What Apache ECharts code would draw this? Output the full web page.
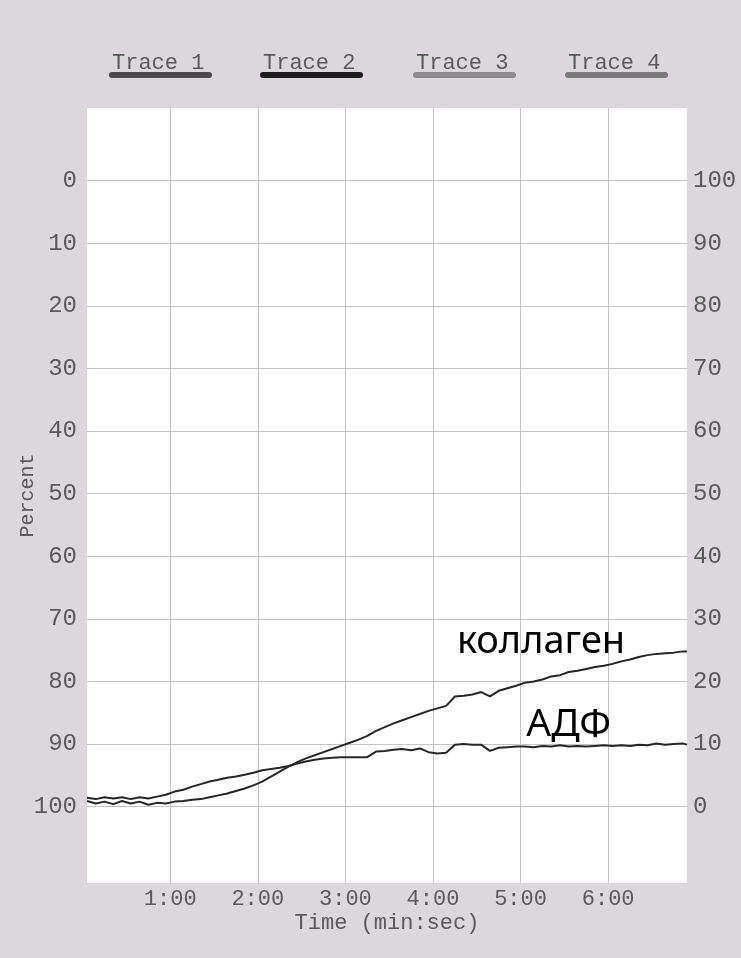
<!DOCTYPE html>
<html><head><meta charset="utf-8">
<script src="https://cdn.jsdelivr.net/npm/echarts@6/dist/echarts.min.js"></script>
<style>html,body{margin:0;padding:0;background:#dbd7dc}#c{width:741px;height:958px}</style>
</head><body><div id="c"></div>
<script>
// time of each sample, seconds
const timeSec = [
  3,9,15,21,27,33,39,45,51,57,
  63,69,75,81,87,93,99,105,111,117,
  123,129,135,141,147,153,159,165,171,177,
  183,189,195,201,207,213,219,225,231,237,
  243,249,255,261,267,273,279,285,291,297,
  303,309,315,321,327,333,339,345,351,357,
  363,369,375,381,387,393,399,405,411,414
];
// aggregation (right axis, %)
const collagen = [
  0.9,0.5,0.8,0.4,0.9,0.5,0.8,0.3,0.6,0.5,
  0.8,0.9,1.1,1.2,1.5,1.8,2.1,2.5,2.9,3.4,
  4.0,4.8,5.6,6.4,7.1,7.7,8.2,8.7,9.2,9.7,
  10.2,10.7,11.3,12.1,12.7,13.3,13.8,14.3,14.8,15.3,
  15.7,16.1,17.6,17.7,17.9,18.3,17.6,18.5,18.9,19.3,
  19.8,20.0,20.3,20.8,21.0,21.5,21.7,22.0,22.3,22.5,
  22.8,23.2,23.5,23.9,24.2,24.4,24.5,24.6,24.8,24.8
];
const adp = [
  1.4,1.2,1.5,1.3,1.5,1.2,1.5,1.3,1.6,1.9,
  2.4,2.7,3.2,3.6,4.0,4.3,4.6,4.8,5.1,5.4,
  5.8,6.0,6.2,6.5,6.9,7.2,7.5,7.7,7.8,7.9,
  7.9,7.9,7.9,8.8,8.9,9.1,9.2,9.0,9.3,8.7,
  8.5,8.6,9.9,10.0,9.9,9.9,8.9,9.4,9.5,9.6,
  9.6,9.5,9.7,9.6,9.8,9.6,9.7,9.6,9.7,9.8,
  9.7,9.8,9.7,9.9,9.8,10.1,9.9,10.0,10.1,9.9
];
const xTickSec = [60,120,180,240,300,360];
const yTicks = [0,10,20,30,40,50,60,70,80,90,100];
const legendNames = ['Trace 1','Trace 2','Trace 3','Trace 4'];
const seriesNames = ['коллаген','АДФ'];

const mono = '"Liberation Mono","DejaVu Sans Mono",monospace';
const txt = '#5a5a5a';
function fmtTime(v){const m=Math.floor(v/60),s=Math.round(v%60);return m+':'+(s<10?'0':'')+s;}

const legendX = [160, 311, 464, 616];
const legendBarColors = ['#4a4a4a','#1c1c1c','#8c8c8c','#7a7a7a'];
const graphic = [];
legendNames.forEach((n,i)=>{
  graphic.push({type:'text', left:legendX[i]-48, top:52, style:{text:n, font:'22px '+mono, fill:txt}});
  graphic.push({type:'rect', shape:{x:legendX[i]-51, y:72, width:103, height:6, r:3}, style:{fill:legendBarColors[i]}});
});

const chart = echarts.init(document.getElementById('c'), null, {renderer:'canvas'});
chart.setOption({
  animation:false,
  backgroundColor:'#dbd7dc',
  graphic: graphic,
  grid:{left:87, right:54, top:108, bottom:75, show:true, backgroundColor:'#ffffff', borderWidth:0, containLabel:false, outerBoundsMode:'none'},
  xAxis:{
    type:'value', min:3, max:414,
    name:'Time (min:sec)', nameLocation:'middle', nameGap:29, nameMoveOverlap:false,
    nameTextStyle:{fontFamily:mono, fontSize:22, color:txt},
    axisLine:{show:false}, axisTick:{show:false, customValues:xTickSec},
    axisLabel:{customValues:xTickSec, formatter:fmtTime, fontFamily:mono, fontSize:22, color:txt, margin:5},
    splitLine:{show:true, lineStyle:{color:'#c4c4c4', width:1}}
  },
  yAxis:[
    {
      type:'value', inverse:true, min:-11.6, max:112.2, position:'left',
      name:'Percent', nameLocation:'middle', nameGap:49, nameMoveOverlap:false,
      nameTextStyle:{fontFamily:mono, fontSize:20, color:txt},
      axisLine:{show:false}, axisTick:{show:false, customValues:yTicks},
      axisLabel:{customValues:yTicks, fontFamily:mono, fontSize:24, color:txt, margin:10},
      splitLine:{show:true, lineStyle:{color:'#c4c4c4', width:1}}
    },
    {
      type:'value', min:-12.2, max:111.6, position:'right',
      axisLine:{show:false}, axisTick:{show:false, customValues:yTicks},
      axisLabel:{customValues:yTicks, fontFamily:mono, fontSize:24, color:txt, margin:6},
      splitLine:{show:false}
    }
  ],
  series:[
    {
      name:seriesNames[0], type:'line', yAxisIndex:1, showSymbol:false,
      data: timeSec.map((t,i)=>[t, collagen[i]]),
      lineStyle:{color:'#262626', width:2}, itemStyle:{color:'#262626'},
      markPoint:{
        symbol:'circle', symbolSize:1, itemStyle:{color:'rgba(0,0,0,0)'},
        label:{show:true, position:'inside', formatter:seriesNames[0], fontFamily:'"Noto Sans",sans-serif', fontSize:38, color:'#000'},
        data:[{coord:[314, 26.3]}]
      }
    },
    {
      name:seriesNames[1], type:'line', yAxisIndex:1, showSymbol:false,
      data: timeSec.map((t,i)=>[t, adp[i]]),
      lineStyle:{color:'#262626', width:2}, itemStyle:{color:'#262626'},
      markPoint:{
        symbol:'circle', symbolSize:1, itemStyle:{color:'rgba(0,0,0,0)'},
        label:{show:true, position:'inside', formatter:seriesNames[1], fontFamily:'"Noto Sans",sans-serif', fontSize:39, color:'#000'},
        data:[{coord:[333, 13.0]}]
      }
    }
  ]
});
</script></body></html>
